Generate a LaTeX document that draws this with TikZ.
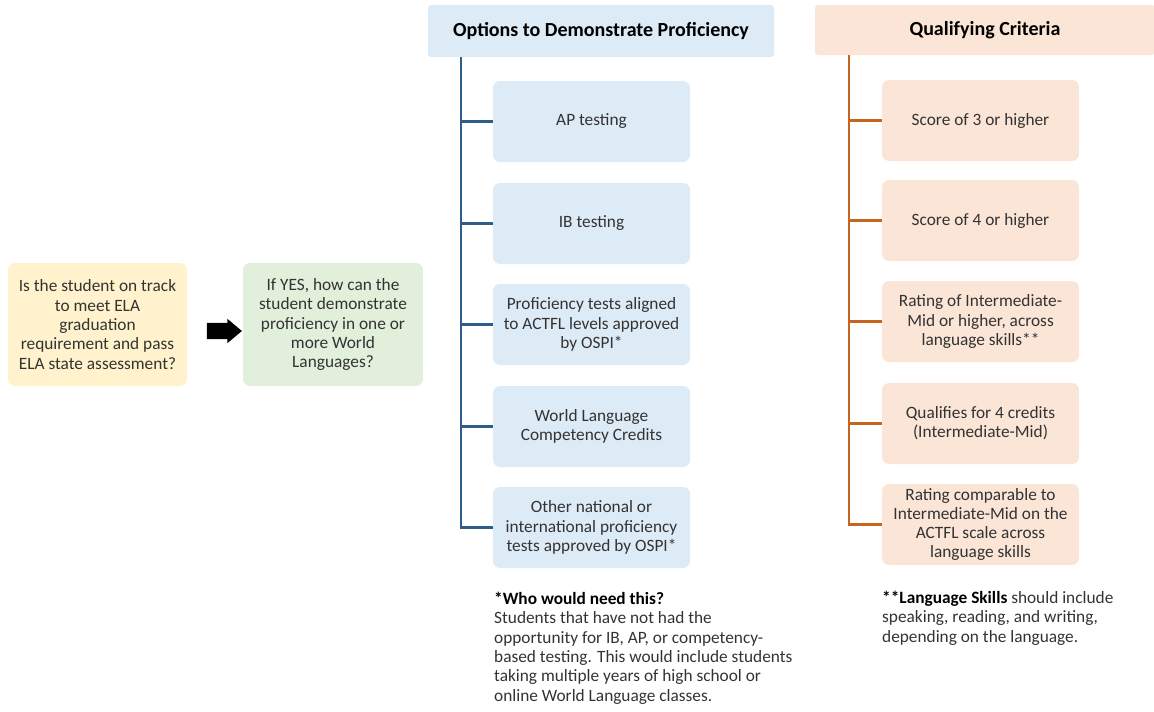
\documentclass[tikz,border=0pt]{standalone}
\usepackage{fontspec}
\setmainfont{Carlito}
\usetikzlibrary{shapes.arrows}

\definecolor{qYellow}{HTML}{FFF2CC}
\definecolor{qGreen}{HTML}{E2EFDA}
\definecolor{optBlue}{HTML}{DDEBF7}
\definecolor{critPeach}{HTML}{FBE5D6}
\definecolor{optLineCol}{HTML}{2F5D8A}
\definecolor{critLineCol}{HTML}{C5651E}
\definecolor{txtGray}{HTML}{333333}

\newcommand{\boxfont}{\fontsize{17.3}{19.3}\selectfont}
\newcommand{\headfont}{\fontsize{20}{24}\selectfont\bfseries}

\tikzset{
	box/.style={rounded corners=7pt, inner sep=2pt, align=center, text=txtGray, font=\boxfont},
	optbox/.style={box, fill=optBlue, minimum width=197pt, minimum height=81pt},
	critbox/.style={box, fill=critPeach, minimum width=197pt, minimum height=81pt},
	headbox/.style={rounded corners=3pt, inner sep=2pt, text=black, font=\headfont},
	optLine/.style={line width=2.3pt, optLineCol},
	critLine/.style={line width=2.3pt, critLineCol},
	footnote/.style={anchor=north west, inner sep=0pt, align=left, text=txtGray, font=\boxfont}
}

\begin{document}
\begin{tikzpicture}[x=1pt,y=-1pt]
	\useasboundingbox (0,0) rectangle (1154,712);
	
	% question boxes
	\node[box, fill=qYellow, minimum width=179pt, minimum height=123pt] (onTrack) at (97.5,324.5)
		{Is the student on track\\to meet ELA\\graduation\\requirement and pass\\ELA state assessment?};
	\node[box, fill=qGreen, minimum width=180pt, minimum height=123pt] (ifYes) at (333,324.5)
		{If YES, how can the\\student demonstrate\\proficiency in one or\\more World\\Languages?};
	\node[single arrow, fill=black, inner sep=0pt, inner ysep=8pt, minimum height=35pt,
		single arrow head extend=4pt, single arrow tip angle=80] (goArrow) at (219.5,331) {};
	
	% options column
	\node[headbox, fill=optBlue, minimum width=346pt, minimum height=52pt] (optHead) at (601,31)
		{Options to Demonstrate Proficiency};
	\node[optbox] (opt1) at (591.5,121.5) {AP testing};
	\node[optbox] (opt2) at (591.5,223.5) {IB testing};
	\node[optbox] (opt3) at (591.5,324.5) {Proficiency tests aligned\\to ACTFL levels approved\\by OSPI*};
	\node[optbox] (opt4) at (591.5,426.5) {World Language\\Competency Credits};
	\node[optbox] (opt5) at (591.5,527.5) {Other national or\\international proficiency\\tests approved by OSPI*};
	
	\coordinate (optRoot) at (461,57);
	\draw[optLine] (optRoot) |- (opt5.west);
	\foreach \i in {1,...,4}
		\draw[optLine] (optRoot |- opt\i.west) -- (opt\i.west);
	
	% criteria column
	\node[headbox, fill=critPeach, minimum width=340pt, minimum height=50pt] (critHead) at (985,30)
		{Qualifying Criteria};
	\node[critbox] (crit1) at (980.5,120.5) {Score of 3 or higher};
	\node[critbox] (crit2) at (980.5,220.5) {Score of 4 or higher};
	\node[critbox] (crit3) at (980.5,321.5) {Rating of Intermediate-\\Mid or higher, across\\language skills**};
	\node[critbox] (crit4) at (980.5,423.5) {Qualifies for 4 credits\\(Intermediate-Mid)};
	\node[critbox] (crit5) at (980.5,524.5) {Rating comparable to\\Intermediate-Mid on the\\ACTFL scale across\\language skills};
	
	\coordinate (critRoot) at (849,55);
	\draw[critLine] (critRoot) |- (crit5.west);
	\foreach \i in {1,...,4}
		\draw[critLine] (critRoot |- crit\i.west) -- (crit\i.west);
	
	% footnotes
	\node[footnote] (whoNote) at (494,592)
		{\textbf{\textcolor{black}{*Who would need this?}}\\Students that have not had the\\opportunity for IB, AP, or competency-\\based testing. This would include students\\taking multiple years of high school or\\online World Language classes.};
	\node[footnote] (skillNote) at (882,591)
		{\textbf{\textcolor{black}{**Language Skills}} should include\\speaking, reading, and writing,\\depending on the language.};
\end{tikzpicture}
\end{document}
